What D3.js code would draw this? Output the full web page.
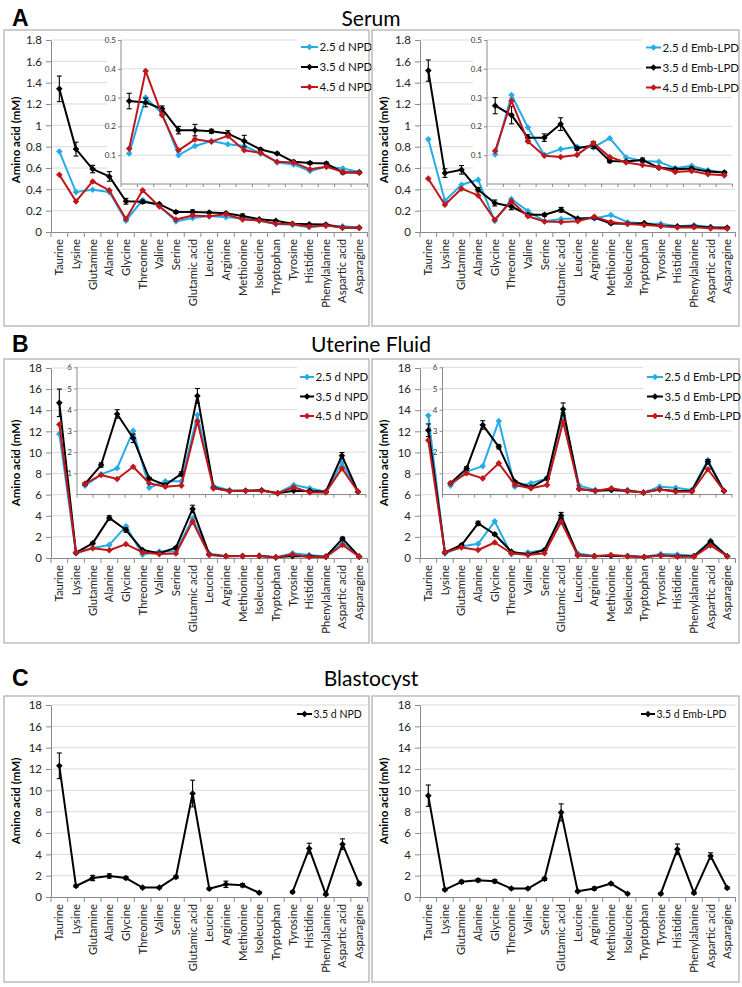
<!DOCTYPE html>
<html><head><meta charset="utf-8">
<script src="https://cdn.jsdelivr.net/npm/d3@7"></script>
<style>
body{margin:0;background:#fff;}
svg{display:block;font-family:Lato,"Open Sans",sans-serif;}
</style></head><body>
<svg id="chart" width="742" height="987"></svg>
<script>
const categories = ["Taurine","Lysine","Glutamine","Alanine","Glycine","Threonine","Valine","Serine","Glutamic acid","Leucine","Arginine","Methionine","Isoleucine","Tryptophan","Tyrosine","Histidine","Phenylalanine","Aspartic acid","Asparagine"];

const serumTicks = [0,0.2,0.4,0.6,0.8,1,1.2,1.4,1.6,1.8];
const serumInsetTicks = [0.1,0.2,0.3,0.4,0.5];
const fluidTicks = [0,2,4,6,8,10,12,14,16,18];
const fluidInsetTicks = [1,2,3,4,5,6];

// Serum, NPD
const serumNPD25 = [0.755,0.374,0.396,0.374,0.106,0.30,0.245,0.10,0.132,0.149,0.138,0.132,0.106,0.075,0.068,0.045,0.06,0.054,0.042];
const serumNPD35 = [1.342,0.777,0.59,0.521,0.288,0.283,0.261,0.187,0.187,0.183,0.175,0.149,0.12,0.106,0.077,0.073,0.071,0.04,0.04];
const serumNPD35err = [0.12,0.065,0.035,0.045,0.027,0.015,0.01,0.013,0.02,0.007,0.01,0.02,0.004,0.004,0.005,0.005,0.005,0.005,0.004];
const serumNPD45 = [0.537,0.287,0.474,0.39,0.123,0.392,0.239,0.117,0.155,0.147,0.167,0.117,0.108,0.077,0.075,0.051,0.06,0.042,0.039];
// Serum, Emb-LPD
const serumLPD25 = [0.87,0.293,0.443,0.49,0.103,0.309,0.196,0.101,0.121,0.129,0.127,0.159,0.092,0.080,0.077,0.055,0.063,0.048,0.04];
const serumLPD35 = [1.513,0.552,0.583,0.396,0.272,0.239,0.161,0.161,0.208,0.123,0.135,0.08,0.078,0.083,0.057,0.051,0.054,0.043,0.04];
const serumLPD35err = [0.1,0.04,0.04,0.02,0.028,0.03,0.01,0.013,0.022,0.006,0.012,0.006,0.004,0.007,0.004,0.004,0.004,0.004,0.004];
const serumLPD45 = [0.5,0.256,0.406,0.343,0.115,0.289,0.148,0.098,0.094,0.101,0.142,0.094,0.075,0.066,0.057,0.042,0.045,0.034,0.03];
// Uterine fluid, NPD
const fluidNPD25 = [11.74,0.42,0.95,1.24,3.0,0.32,0.62,0.62,3.75,0.4,0.2,0.18,0.2,0.06,0.45,0.29,0.13,1.5,0.13];
const fluidNPD35 = [14.7,0.5,1.39,3.8,2.65,0.75,0.45,0.97,4.65,0.32,0.17,0.18,0.2,0.06,0.18,0.17,0.13,1.83,0.13];
const fluidNPD35err = [1.3,0.05,0.1,0.2,0.2,0.05,0.05,0.1,0.35,0.03,0.02,0.02,0.02,0.02,0.03,0.02,0.02,0.15,0.02];
const fluidNPD45 = [12.65,0.5,0.92,0.73,1.31,0.53,0.37,0.42,3.45,0.29,0.17,0.18,0.18,0.06,0.34,0.1,0.1,1.23,0.13];
// Uterine fluid, Emb-LPD
const fluidLPD25 = [13.5,0.42,1.08,1.34,3.47,0.37,0.53,0.76,3.83,0.42,0.21,0.21,0.21,0.09,0.37,0.32,0.21,1.63,0.17];
const fluidLPD35 = [12.1,0.53,1.23,3.28,2.25,0.6,0.34,0.76,4.02,0.26,0.17,0.21,0.17,0.09,0.24,0.17,0.17,1.55,0.17];
const fluidLPD35err = [0.6,0.05,0.08,0.2,0.1,0.05,0.03,0.05,0.3,0.03,0.02,0.02,0.02,0.02,0.02,0.02,0.02,0.1,0.02];
const fluidLPD45 = [11.15,0.53,1.0,0.76,1.47,0.45,0.29,0.45,3.43,0.26,0.17,0.29,0.17,0.09,0.24,0.13,0.13,1.19,0.17];
// Blastocyst
const blastNPD35 = [12.3,1.03,1.78,1.97,1.78,0.88,0.88,1.88,9.7,0.78,1.19,1.1,0.4,null,0.47,4.54,0.25,4.95,1.25];
const blastNPD35err = [1.2,0.1,0.25,0.2,0.15,0.1,0.1,0.15,1.25,0.1,0.3,0.15,0.1,null,0.1,0.5,0.1,0.5,0.15];
const blastLPD35 = [9.5,0.69,1.42,1.57,1.48,0.79,0.79,1.7,7.93,0.53,0.79,1.26,0.31,null,0.31,4.47,0.38,3.84,0.85];
const blastLPD35err = [1.0,0.1,0.15,0.15,0.15,0.1,0.1,0.15,0.8,0.1,0.15,0.1,0.1,null,0.1,0.5,0.1,0.3,0.1];

const BLUE = "#25ace6", BLACK = "#000000", RED = "#c0161c";
const AXIS = "#8a8a8a", GRID = "#d9d9d9", BORDER = "#b3b3b3";
const fmt = d => String(Math.round(d * 10) / 10);

const svg = d3.select("#chart");

function diamond(r) { return `M0,${-r}L${r},0L0,${r}L${-r},0Z`; }

function drawSeries(g, x, y, cats, vals, errs, color) {
  const pts = cats.map((c, i) => ({c, v: vals[i], e: errs ? errs[i] : null}));
  const line = d3.line().defined(d => d.v != null).x(d => x(d.c)).y(d => y(d.v));
  g.append("path").attr("d", line(pts)).attr("fill", "none").attr("stroke", color).attr("stroke-width", 2).attr("stroke-linejoin", "round");
  if (errs) {
    pts.filter(d => d.v != null && d.e).forEach(d => {
      const cx = x(d.c), y1 = y(d.v + d.e), y2 = y(d.v - d.e);
      g.append("line").attr("x1", cx).attr("x2", cx).attr("y1", y1).attr("y2", y2).attr("stroke", color).attr("stroke-width", 1.1);
      [y1, y2].forEach(yy => g.append("line").attr("x1", cx - 2.5).attr("x2", cx + 2.5).attr("y1", yy).attr("y2", yy).attr("stroke", color).attr("stroke-width", 1.1));
    });
  }
  g.selectAll(null).data(pts.filter(d => d.v != null)).enter().append("path")
    .attr("d", diamond(3.3)).attr("transform", d => `translate(${x(d.c)},${y(d.v)})`).attr("fill", color);
}

function catTicks(g, band, y0, len) {
  const bw = band.step();
  const [l] = band.range();
  for (let i = 0; i <= band.domain().length; i++) {
    g.append("line").attr("x1", l + i * bw).attr("x2", l + i * bw).attr("y1", y0).attr("y2", y0 + len).attr("stroke", AXIS);
  }
}

function drawPanel(p) {
  const g = svg.append("g");
  // panel box
  g.append("rect").attr("x", p.box[0]).attr("y", p.box[1]).attr("width", p.box[2]).attr("height", p.box[3])
    .attr("fill", "#fff").attr("stroke", BORDER).attr("stroke-width", 1.3);
  const band = d3.scaleBand().domain(categories).range(p.xr).padding(0);
  const x = c => band(c) + band.bandwidth() / 2;
  const y = d3.scaleLinear().domain([0, p.ticks[p.ticks.length - 1]]).range(p.yr);
  // gridlines
  p.ticks.filter(t => t > 0).forEach(t => g.append("line").attr("x1", p.xr[0]).attr("x2", p.xr[1]).attr("y1", y(t)).attr("y2", y(t)).attr("stroke", GRID));
  // y axis
  const ya = g.append("g").attr("transform", `translate(${p.xr[0]},0)`)
    .call(d3.axisLeft(y).tickValues(p.ticks).tickFormat(fmt).tickSize(5).tickPadding(4).tickSizeOuter(0));
  ya.select(".domain").attr("stroke", AXIS);
  ya.selectAll(".tick line").attr("stroke", AXIS);
  ya.selectAll(".tick text").attr("font-size", 11.5).attr("fill", "#222").attr("font-family", "Lato");
  // x axis
  const xa = g.append("g").attr("transform", `translate(0,${p.yr[0]})`)
    .call(d3.axisBottom(band).tickSize(0).tickPadding(0).tickSizeOuter(0));
  xa.select(".domain").attr("stroke", AXIS);
  xa.selectAll(".tick text").attr("transform", "rotate(-90)").attr("text-anchor", "end")
    .attr("x", -7).attr("y", 0).attr("dy", "0.35em").attr("font-size", 11.3).attr("fill", "#222").attr("font-family", "Lato");
  catTicks(g, band, p.yr[0], 5);
  // y title
  g.append("text").attr("transform", `translate(${p.box[0] + 12},${p.titleY}) rotate(-90)`)
    .attr("text-anchor", "middle").attr("dy", "0.35em").attr("font-weight", "bold").attr("font-size", 11.5)
    .attr("font-family", "Lato").text("Amino acid (mM)");

  let ins = null;
  if (p.inset) {
    const q = p.inset;
    const icats = categories.slice(q.start);
    const ib = d3.scaleBand().domain(icats).range(q.xr).padding(0);
    const ix = c => ib(c) + ib.bandwidth() / 2;
    const iy = d3.scaleLinear().domain([0, q.ticks[q.ticks.length - 1]]).range(q.yr);
    g.append("rect").attr("x", q.xr[0] - q.pad).attr("y", q.yr[1] - 5).attr("width", p.box[0] + p.box[2] - 1 - (q.xr[0] - q.pad))
      .attr("height", q.yr[0] - q.yr[1] + 5).attr("fill", "#fff");
    q.ticks.forEach(t => g.append("line").attr("x1", q.xr[0]).attr("x2", q.xr[1]).attr("y1", iy(t)).attr("y2", iy(t)).attr("stroke", GRID));
    const iya = g.append("g").attr("transform", `translate(${q.xr[0]},0)`)
      .call(d3.axisLeft(iy).tickValues(q.ticks).tickFormat(fmt).tickSize(3).tickPadding(2).tickSizeOuter(0));
    iya.select(".domain").attr("stroke", AXIS).attr("d", `M0,${q.yr[1]}V${q.yr[0]}`);
    iya.selectAll(".tick line").attr("stroke", AXIS);
    iya.selectAll(".tick text").attr("font-size", 8).attr("fill", "#333").attr("font-family", "Lato");
    g.append("line").attr("x1", q.xr[0]).attr("x2", q.xr[1]).attr("y1", q.yr[0]).attr("y2", q.yr[0]).attr("stroke", AXIS);
    catTicks(g, ib, q.yr[0], 3);
    ins = {icats, ix, iy};
  }
  // main series
  p.series.forEach(s => drawSeries(g, x, y, categories, s.values, s.err, s.color));
  if (ins) {
    const st = p.inset.start;
    p.series.forEach(s => drawSeries(g, ins.ix, ins.iy, ins.icats, s.values.slice(st), s.err ? s.err.slice(st) : null, s.color));
  }
  // legend
  const L = p.legend;
  if (L.bg) g.append("rect").attr("x", L.bg[0]).attr("y", L.bg[1]).attr("width", L.bg[2]).attr("height", L.bg[3]).attr("fill", "#fff");
  p.series.forEach((s, i) => {
    const yy = L.ys[i];
    g.append("line").attr("x1", L.x).attr("x2", L.x + L.len).attr("y1", yy).attr("y2", yy).attr("stroke", s.color).attr("stroke-width", 2);
    g.append("path").attr("d", diamond(3.2)).attr("transform", `translate(${L.x + L.len / 2},${yy})`).attr("fill", s.color);
    g.append("text").attr("x", L.x + L.len + 1.5).attr("y", yy).attr("dy", "0.35em").attr("font-size", L.fs)
      .attr("font-family", "Lato").attr("fill", "#111").text(s.name);
  });
}

// headings
function heading(letter, title, base) {
  svg.append("text").attr("x", 12).attr("y", base).attr("font-family", "Liberation Sans, Arial").attr("font-weight", "bold").attr("font-size", 23).text(letter);
  svg.append("text").attr("x", 371).attr("y", base).attr("text-anchor", "middle").attr("font-family", "Lato").attr("font-size", 21).text(title);
}
heading("A", "Serum", 26);
heading("B", "Uterine Fluid", 352);
heading("C", "Blastocyst", 686);

// Serum
drawPanel({box:[4,30,365,296], xr:[51,367.5], yr:[232,40], ticks:serumTicks, titleY:140,
  series:[{name:"2.5 d NPD", values:serumNPD25, color:BLUE},{name:"3.5 d NPD", values:serumNPD35, err:serumNPD35err, color:BLACK},{name:"4.5 d NPD", values:serumNPD45, color:RED}],
  inset:{start:4, xr:[121,367.5], yr:[184,40], ticks:serumInsetTicks, pad:14},
  legend:{x:301, len:17, ys:[47,67,87], fs:11.5, bg:[297,35,70,60]}});
drawPanel({box:[372,30,367,296], xr:[420,735.5], yr:[232,40], ticks:serumTicks, titleY:140,
  series:[{name:"2.5 d Emb-LPD", values:serumLPD25, color:BLUE},{name:"3.5 d Emb-LPD", values:serumLPD35, err:serumLPD35err, color:BLACK},{name:"4.5 d Emb-LPD", values:serumLPD45, color:RED}],
  inset:{start:4, xr:[487,732.5], yr:[184,40], ticks:serumInsetTicks, pad:14},
  legend:{x:646, len:15, ys:[47.5,67.5,87.5], fs:11.5, bg:[642,35,95,60]}});
// Uterine fluid
drawPanel({box:[4,359,365,284], xr:[51,367.5], yr:[558,368], ticks:fluidTicks, titleY:463,
  series:[{name:"2.5 d NPD", values:fluidNPD25, color:BLUE},{name:"3.5 d NPD", values:fluidNPD35, err:fluidNPD35err, color:BLACK},{name:"4.5 d NPD", values:fluidNPD45, color:RED}],
  inset:{start:1, xr:[77,366], yr:[494.5,367.3], ticks:fluidInsetTicks, pad:10},
  legend:{x:300, len:14, ys:[377,396.5,416], fs:11.5, bg:[297,367,69,58]}});
drawPanel({box:[372,359,367,284], xr:[420,735.5], yr:[558,368], ticks:fluidTicks, titleY:463,
  series:[{name:"2.5 d Emb-LPD", values:fluidLPD25, color:BLUE},{name:"3.5 d Emb-LPD", values:fluidLPD35, err:fluidLPD35err, color:BLACK},{name:"4.5 d Emb-LPD", values:fluidLPD45, color:RED}],
  inset:{start:1, xr:[442.5,732], yr:[494.5,367.3], ticks:fluidInsetTicks, pad:10},
  legend:{x:647, len:16, ys:[377,396.5,416], fs:11.5, bg:[643,367,94,58]}});
// Blastocyst
drawPanel({box:[4,696,365,286], xr:[51,367.5], yr:[897,705], ticks:fluidTicks, titleY:801,
  series:[{name:"3.5 d NPD", values:blastNPD35, err:blastNPD35err, color:BLACK}],
  legend:{x:297, len:15, ys:[714], fs:10.5, bg:[295,706,70,16]}});
drawPanel({box:[372,696,367,286], xr:[420,735.5], yr:[897,705], ticks:fluidTicks, titleY:801,
  series:[{name:"3.5 d Emb-LPD", values:blastLPD35, err:blastLPD35err, color:BLACK}],
  legend:{x:641, len:14, ys:[714], fs:10.5, bg:[639,706,96,16]}});
</script>
</body></html>
